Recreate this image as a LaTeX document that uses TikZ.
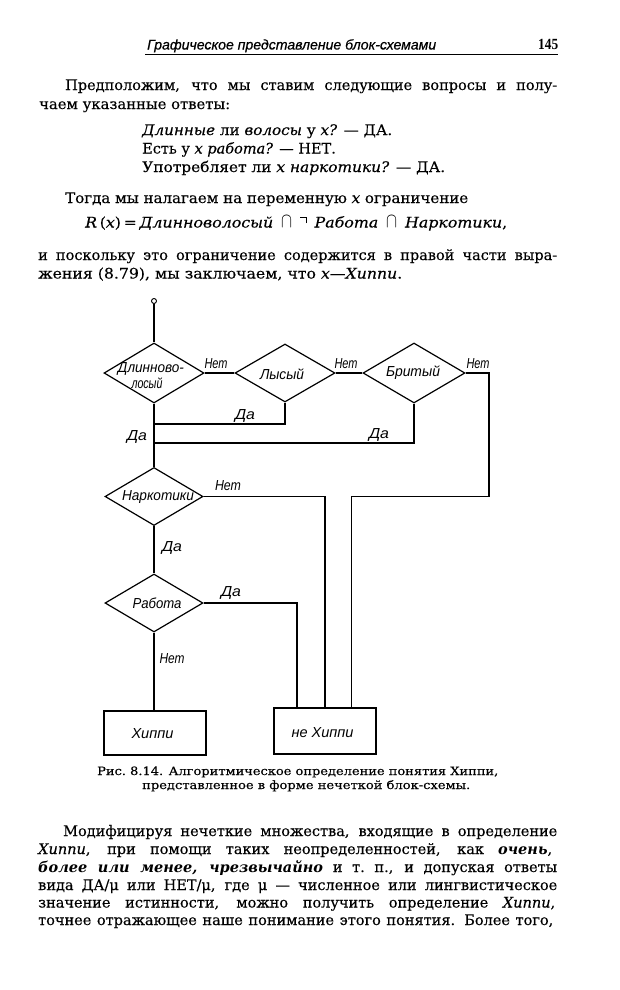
\documentclass[tikz,border=0pt]{standalone}
\usepackage{fontspec}
\usepackage{graphicx}
\setmainfont{DejaVu Serif}[UprightFeatures={FakeBold=0.3},ItalicFeatures={FakeBold=0.3}]
\newfontfamily\dfont{Liberation Sans}
\newfontfamily\hfont{Liberation Sans}[ItalicFeatures={FakeBold=0.6}]
\newfontfamily\nfont{Liberation Serif}
\usetikzlibrary{shapes.geometric}
\newcommand\fitw[2]{\resizebox{#1pt}{\height}{#2}}
\newcommand\jus[2]{\makebox[#1pt][s]{#2}}
\newcommand\tneg{\rule[0.66em]{0.42em}{0.06em}\kern-0.06em\rule[0.3em]{0.06em}{0.42em}}
\newcommand\bcap{\raisebox{0.02em}{\scalebox{1.05}[1.45]{$\cap$}}}
\tikzset{
  txt/.style={anchor=base west, inner sep=0pt, font=\fontsize{14.5}{17}\selectfont},
  captxt/.style={anchor=base west, inner sep=0pt, font=\fontsize{11.5}{13}\selectfont},
  lab/.style={inner sep=0pt, font=\dfont\itshape\fontsize{14.5}{16}\selectfont},
  wire/.style={line width=1.2pt},
  dia/.style={diamond, draw, line width=1.2pt, inner sep=0pt},
  blk/.style={draw, line width=1.2pt, inner sep=0pt, minimum width=102pt}
}
\begin{document}
\begin{tikzpicture}[x=1pt,y=-1pt]
\useasboundingbox (0,0) rectangle (619,990);
% header
\node[anchor=base west, inner sep=0pt, font=\hfont\itshape\fontsize{14}{15}\selectfont] (hd) at (147,49.5) {\fitw{289}{Графическое представление блок-схемами}};
\node[anchor=base west, inner sep=0pt, font=\nfont\bfseries\fontsize{15.5}{15}\selectfont] (pg) at (538,49.5) {\fitw{20}{145}};
\coordinate (hl) at (145,54.5);
\coordinate (hr) at (558,54.5);
\draw[line width=0.9pt] (hl) -- (hr);
% top paragraph
\node[txt] (t1) at (65,90) {\jus{492}{Предположим, что мы ставим следующие вопросы и полу-}};
\node[txt] (t2) at (39,109) {\fitw{191}{чаем указанные ответы:}};
\node[txt] (q1) at (142,135) {\fitw{250}{\textit{Длинные} ли \textit{волосы} у \textit{x?} — ДА.}};
\node[txt] (q2) at (142,153.5) {Есть у \textit{x работа?} — НЕТ.};
\node[txt] (q3) at (142,172) {\fitw{303}{Употребляет ли \textit{x наркотики?} — ДА.}};
\node[txt] (t3) at (65,203) {\fitw{403}{Тогда мы налагаем на переменную \textit{x} ограничение}};
\node[txt] (t4) at (85,227.5) {\fitw{422}{\textit{R}\,(\textit{x})\,=\,\textit{Длинноволосый}\enspace\bcap\enspace\tneg\enspace\textit{Работа}\enspace\bcap\enspace\textit{Наркотики},}};
\node[txt] (t5) at (38,260) {\jus{519}{и поскольку это ограничение содержится в правой части выра-}};
\node[txt] (t6) at (38,278.5) {\fitw{364}{жения (8.79), мы заключаем, что \textit{x—Хиппи}.}};
% diagram
\node[circle, draw, line width=0.9pt, inner sep=0pt, minimum size=5pt] (c0) at (154,301) {};
\node[dia, minimum width=100pt, minimum height=60pt] (d1) at (154,373) {};
\node[dia, minimum width=100pt, minimum height=58pt] (d2) at (285,373) {};
\node[dia, minimum width=102pt, minimum height=60pt] (d3) at (414,373) {};
\node[dia, minimum width=98pt, minimum height=58pt] (d4) at (154,496.5) {};
\node[dia, minimum width=98pt, minimum height=58pt] (d5) at (154,603) {};
\node[blk, minimum height=44pt] (b1) at (155,733) {};
\node[blk, minimum height=46pt] (b2) at (325,731) {};
% diagram texts
\node[lab] (l1a) at (151,369) {\fitw{66}{Длинново-}};
\node[lab] (l1b) at (147,383.5) {\fitw{31}{лосый}};
\node[lab] (l2) at (282,374) {\fitw{44}{Лысый}};
\node[lab] (l3) at (413,373) {\fitw{54}{Бритый}};
\node[lab] (l4) at (158,497) {\fitw{72}{Наркотики}};
\node[lab] (l5) at (157,603) {\fitw{49}{Работа}};
\node[lab] (l6) at (152.5,734) {\fitw{42}{Хиппи}};
\node[lab] (l7) at (322.5,733) {\fitw{62}{не Хиппи}};
\node[lab] (n1) at (216,364) {\fitw{23}{Нет}};
\node[lab] (n2) at (346,364) {\fitw{23}{Нет}};
\node[lab] (n3) at (478,364) {\fitw{23}{Нет}};
\node[lab] (y1) at (245,416) {\fitw{20}{Да}};
\node[lab] (y0) at (137,437) {\fitw{20}{Да}};
\node[lab] (y2) at (379,435) {\fitw{20}{Да}};
\node[lab] (n4) at (228,486) {\fitw{26}{Нет}};
\node[lab] (y3) at (172,548) {\fitw{20}{Да}};
\node[lab] (y4) at (231,593) {\fitw{20}{Да}};
\node[lab] (n5) at (172,659) {\fitw{25}{Нет}};
% connectors
\coordinate (j1) at (154,424);
\coordinate (j2) at (154,443);
\coordinate (ra) at (489,496.5);
\coordinate (rb) at (351.5,496.5);
\draw[wire] (c0.south) -- (d1.north);
\draw[wire] (d1.east) -- (d2.west);
\draw[wire] (d2.east) -- (d3.west);
\draw[wire] (d3.east) -| (ra) -- (rb) -- (rb |- b2.north);
\draw[wire] (d2.south) |- (j1);
\draw[wire] (d3.south) |- (j2);
\draw[wire] (d1.south) -- (d4.north);
\draw[wire] (d4.east) -| (b2.north);
\draw[wire] (d5.east) -| ([xshift=-28pt]b2.north);
\draw[wire] (d4.south) -- (d5.north);
\draw[wire] (d5.south) -- (d5.south |- b1.north);
% caption
\node[captxt] (k1) at (97,775) {\fitw{401}{Рис.\ 8.14. Алгоритмическое определение понятия Хиппи,}};
\node[captxt] (k2) at (142,789) {\fitw{328}{представленное в форме нечеткой блок-схемы.}};
% bottom paragraph
\node[txt] (p1) at (63,836) {\jus{494}{Модифицируя нечеткие множества, входящие в определение}};
\node[txt] (p2) at (38,854) {\jus{514}{\textit{Хиппи}, при помощи таких неопределенностей, как \textbf{\textit{очень}},}};
\node[txt] (p3) at (38,872) {\jus{519}{\textbf{\textit{более или менее, чрезвычайно}} и т.~п., и допуская ответы}};
\node[txt] (p4) at (38,890) {\jus{519}{вида ДА/μ или НЕТ/μ, где μ — численное или лингвистическое}};
\node[txt] (p5) at (38,907.5) {\jus{517}{значение истинности, можно получить определение \textit{Хиппи},}};
\node[txt] (p6) at (38,925) {\jus{515}{точнее отражающее наше понимание этого понятия. Более того,}};
\end{tikzpicture}
\end{document}
